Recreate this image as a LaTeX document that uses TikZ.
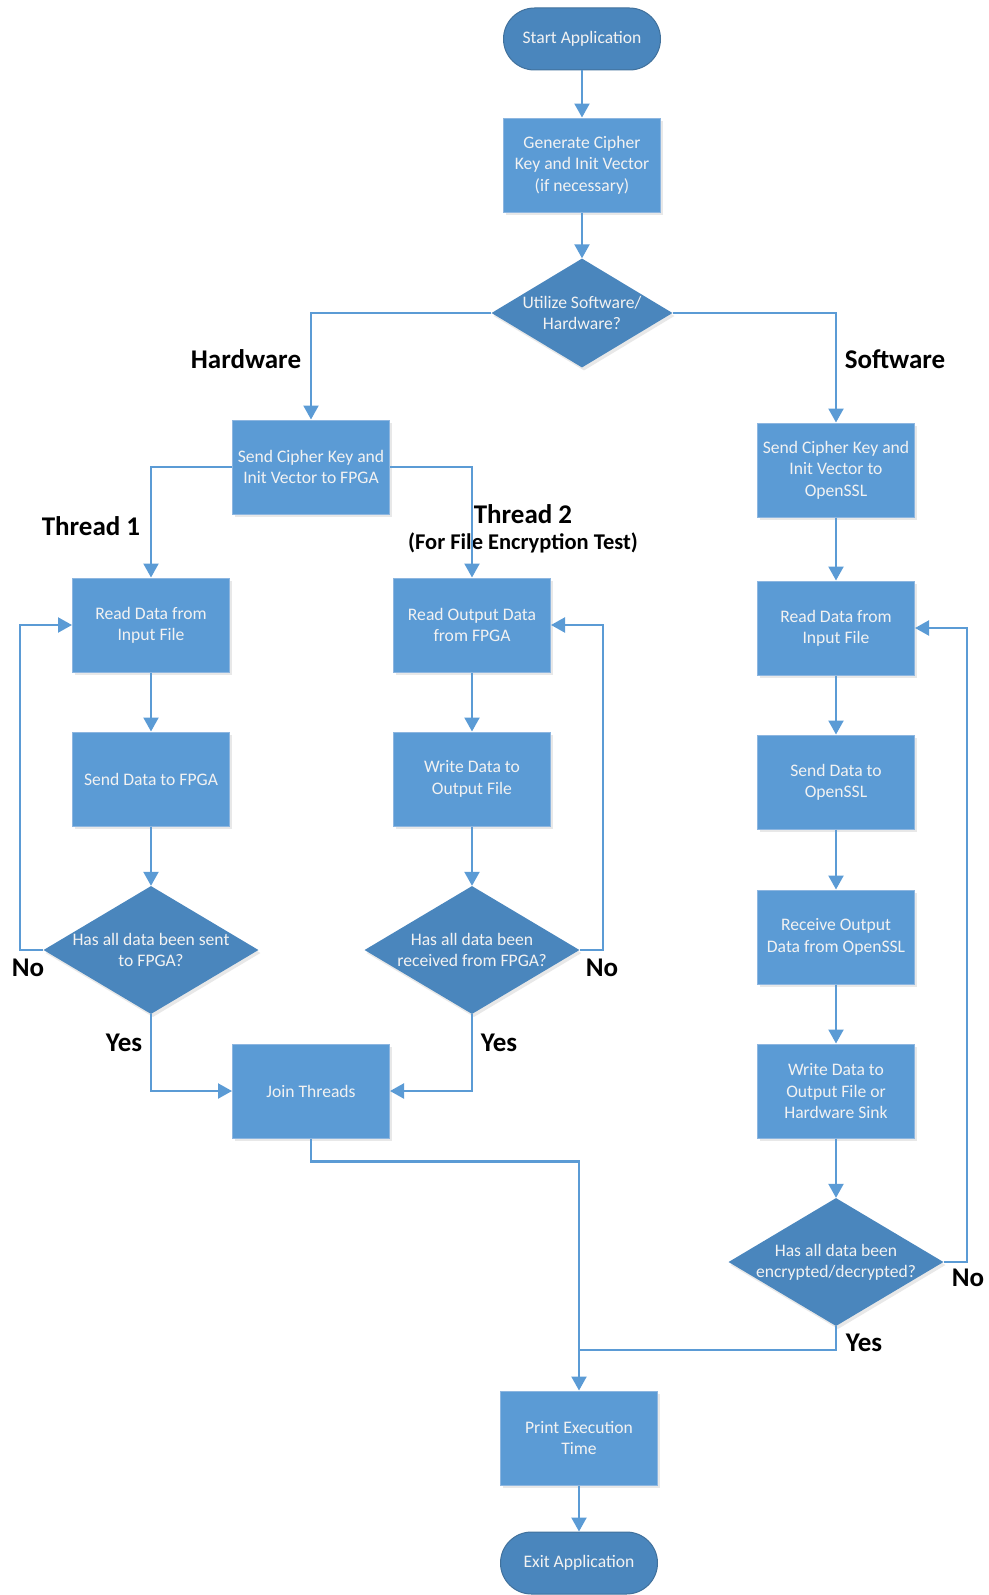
\documentclass[tikz,border=0pt]{standalone}
\usepackage{fontspec}
\setmainfont{Carlito}
\usetikzlibrary{shapes.geometric,arrows.meta,shadows}
\definecolor{boxblue}{HTML}{5B9BD5}
\definecolor{boxedge}{HTML}{8DB6E0}
\definecolor{darkblue}{HTML}{4A86BD}
\definecolor{darkedge}{HTML}{41719C}
\definecolor{flow}{HTML}{5B9BD5}
\definecolor{txt}{HTML}{F2F2F2}

\begin{document}
\begin{tikzpicture}[x=1pt,y=-1pt,
  shade/.style={drop shadow={opacity=0.18, shadow xshift=2pt, shadow yshift=-3pt}},
  proc/.style={rectangle, fill=boxblue, draw=boxedge, line width=1pt,
    minimum width=157pt, minimum height=94pt, align=center, text=txt,
    font=\fontsize{17.6}{21.4}\selectfont, shade},
  term/.style={rectangle, rounded corners=31pt, fill=darkblue, draw=darkedge,
    line width=1pt, minimum width=157pt, minimum height=62pt, text=txt,
    font=\fontsize{17.6}{21.4}\selectfont},
  dec/.style={diamond, fill=darkblue, draw=none, minimum width=215pt,
    minimum height=128pt, inner sep=0pt, shade},
  dtext/.style={text=txt, align=center, font=\fontsize{17.6}{21.4}\selectfont},
  flowline/.style={draw=flow, line width=2.2pt},
  arr/.style={flowline, -{Triangle[width=15pt,length=14pt]}},
  lbl/.style={font=\fontsize{27}{31}\bfseries\selectfont, text=black},
]
\useasboundingbox (0,0) rectangle (988,1595);

% start, key generation and the software/hardware choice
\node[term] (start) at (582,39) {Start Application};
\node[proc] (gen) at (582,165) {Generate Cipher\\Key and Init Vector\\(if necessary)};
\node[dec, minimum width=181pt, minimum height=109pt] (util) at (582,313) {};
\node[dtext] (utilt) at (util) {Utilize Software/\\Hardware?};

% hardware branch
\node[proc] (hwkey) at (311,467) {Send Cipher Key and\\Init Vector to FPGA};
\node[proc] (rd1) at (151,625) {Read Data from\\Input File};
\node[proc] (snd1) at (151,779) {Send Data to FPGA};
\node[dec] (q1) at (151,950) {};
\node[dtext] (q1t) at (q1) {Has all data been sent\\to FPGA?};
\node[proc] (rd2) at (472,625) {Read Output Data\\from FPGA};
\node[proc] (wr2) at (472,779) {Write Data to\\Output File};
\node[dec] (q2) at (472,950) {};
\node[dtext] (q2t) at (q2) {Has all data been\\received from FPGA?};
\node[proc] (join) at (311,1091) {Join Threads};

% software branch
\node[proc] (swkey) at (836,470) {Send Cipher Key and\\Init Vector to\\OpenSSL};
\node[proc] (rd3) at (836,628) {Read Data from\\Input File};
\node[proc] (snd3) at (836,782) {Send Data to\\OpenSSL};
\node[proc] (rcv3) at (836,937) {Receive Output\\Data from OpenSSL};
\node[proc] (wr3) at (836,1091) {Write Data to\\Output File or\\Hardware Sink};
\node[dec] (q3) at (836,1262) {};
\node[dtext] (q3t) at (q3) {Has all data been\\encrypted/decrypted?};

% finish
\node[proc] (print) at (579,1438) {Print Execution\\Time};
\node[term] (exit) at (579,1563) {Exit Application};

% labels
\node[lbl] (lhw) at (246,359) {Hardware};
\node[lbl] (lsw) at (895,359) {Software};
\node[lbl] (lt1) at (91,526) {Thread 1};
\node[lbl] (lt2) at (523,514) {Thread 2};
\node[font=\fontsize{22.5}{26}\bfseries\selectfont] (lt2b) at (523,543) {(For File Encryption Test)};
\node[lbl] (no1) at (28,968) {No};
\node[lbl] (yes1) at (124,1043) {Yes};
\node[lbl] (no2) at (602,968) {No};
\node[lbl] (yes2) at (499,1043) {Yes};
\node[lbl] (no3) at (968,1278) {No};
\node[lbl] (yes3) at (864,1343) {Yes};

% connectors
\draw[arr] (start) -- (gen);
\draw[arr] (gen) -- (util);
\draw[arr] (util.west) -| (hwkey);
\draw[arr] (util.east) -| (swkey);

\draw[arr] (hwkey.west) -| (rd1);
\draw[arr] (hwkey.east) -| (rd2);
\draw[arr] (rd1) -- (snd1);
\draw[arr] (snd1) -- (q1);
\draw[arr] (q1.west) -- ++(-23,0) |- (rd1.west);
\draw[arr] (q1.south) |- (join.west);
\draw[arr] (rd2) -- (wr2);
\draw[arr] (wr2) -- (q2);
\draw[arr] (q2.east) -- ++(23,0) |- (rd2.east);
\draw[arr] (q2.south) |- (join.east);

\draw[arr] (swkey) -- (rd3);
\draw[arr] (rd3) -- (snd3);
\draw[arr] (snd3) -- (rcv3);
\draw[arr] (rcv3) -- (wr3);
\draw[arr] (wr3) -- (q3);
\draw[arr] (q3.east) -- ++(23,0) |- (rd3.east);

\coordinate (merge) at (579,1350);
\draw[arr] (join.south) -- ++(0,23) -| (print.north);
\draw[flowline] (q3.south) |- (merge);
\draw[arr] (print) -- (exit);
\end{tikzpicture}
\end{document}
